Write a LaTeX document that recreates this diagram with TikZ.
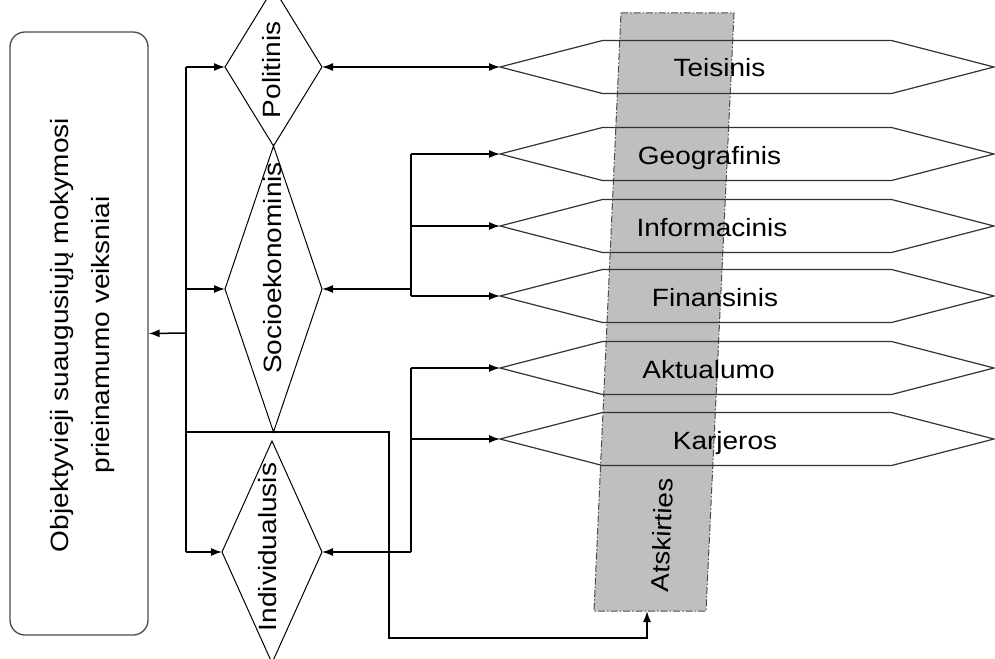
\documentclass[tikz,border=0pt]{standalone}
\usepackage{fontspec}
\setmainfont{Liberation Sans}[FakeStretch=1.12]
\usetikzlibrary{arrows.meta,shapes.geometric,shapes.symbols}

\begin{document}
\begin{tikzpicture}[x=1pt,y=-1pt,
    font=\fontsize{25}{41}\selectfont,
    wire/.style={line width=1.5pt},
    conn/.style={wire,-{Latex[length=11pt,width=8pt]}},
    conn2/.style={wire,{Latex[length=11pt,width=8pt]}-{Latex[length=11pt,width=8pt]}},
    romb/.style={draw,diamond,line width=1pt,inner sep=0pt,outer sep=0pt},
    juosta/.style={draw=black!80,signal,signal to=west and east,signal pointer angle=29,
        line width=1.2pt,minimum width=494pt,minimum height=53pt,inner sep=0pt,outer sep=0pt}]
\useasboundingbox (0,0) rectangle (995,658);
\clip (0,0) rectangle (995,658);

% atskirties juosta
\draw[fill=black!25,draw=black!70,line width=1pt,dash pattern=on 7pt off 2pt on 1.5pt off 2pt]
    (621,13) -- (734,13) -- (706,611) -- (594,611) -- cycle;
\coordinate (atsk) at (647,611);
\node[rotate=87.4] (atsk-t) at (662,535) {Atskirties};

% veiksniai
\foreach \n/\y/\tx/\t in {teis/67/719.5/Teisinis, geo/154/709.5/Geografinis,
    inf/226/712/Informacinis, fin/296/715/Finansinis,
    akt/368/708.5/Aktualumo, kar/439/725/Karjeros}
{
    \node[juosta] (\n) at (747,\y) {};
    \node[anchor=base] (\n-t) at (\tx,\y+10) {\t};
}

\node[draw=black!70,line width=1.3pt,rounded corners=15pt,minimum width=138pt,
    minimum height=603pt] (veiksniai) at (79,333.5) {};
\node[rotate=90,align=center] (veiksniai-t) at (83,335)
    {Objektyvieji suaugusiųjų mokymosi\\prieinamumo veiksniai};

\node[romb,minimum width=97pt,minimum height=158pt] (pol) at (273.5,67) {};
\node[romb,minimum width=97pt,minimum height=286pt] (soc) at (273.5,289) {};
\node[romb,minimum width=100pt,minimum height=222pt] (ind) at (272,552) {};
\node[rotate=90] (pol-t) at (272,70) {Politinis};
\node[rotate=90] (soc-t) at (273,268) {Socioekonominis};
\node[rotate=90] (ind-t) at (268,547) {Individualusis};

% jungtys
\coordinate (kam) at (186,333);
\draw[conn] (kam) -- (veiksniai.east);
\draw[wire] (kam |- pol.west) -- (kam |- ind.west);
\foreach \d in {pol,soc,ind}
    \draw[conn] (kam |- \d.west) -- (\d.west);
\draw[conn2] (pol.east) -- (teis.west);

\coordinate (s1) at (411,289);
\draw[conn] (s1) -- (soc.east);
\draw[wire] (s1 |- geo.west) -- (s1 |- fin.west);
\foreach \h in {geo,inf,fin}
    \draw[conn] (s1 |- \h.west) -- (\h.west);

\coordinate (s2) at (411,552);
\draw[conn] (s2) -- (ind.east);
\draw[wire] (s2 |- akt.west) -- (s2);
\foreach \h in {akt,kar}
    \draw[conn] (s2 |- \h.west) -- (\h.west);

\draw[conn] (kam |- soc.south) -| ++(203,206) -| (atsk);
\end{tikzpicture}
\end{document}
